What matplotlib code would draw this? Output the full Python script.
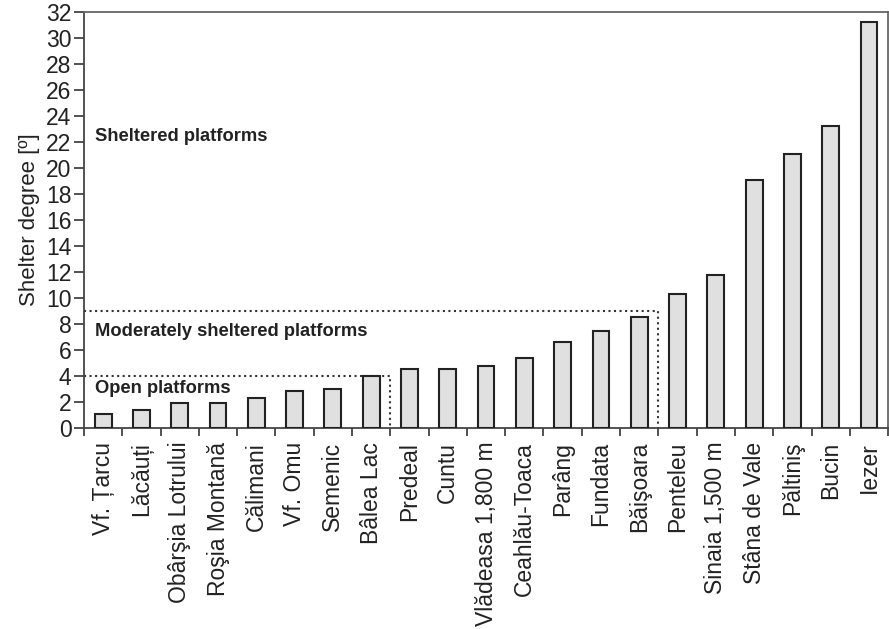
import matplotlib
matplotlib.use("Agg")
import matplotlib.pyplot as plt
import numpy as np

plt.rcParams['font.family'] = ['Liberation Sans', 'DejaVu Sans']

stations = ['Vf. Țarcu', 'Lăcăuți', 'Obârşia Lotrului', 'Roşia Montană', 'Călimani',
            'Vf. Omu', 'Semenic', 'Bâlea Lac', 'Predeal', 'Cuntu',
            'Vlădeasa 1,800 m', 'Ceahlău-Toaca', 'Parâng', 'Fundata', 'Băişoara',
            'Penteleu', 'Sinaia 1,500 m', 'Stâna de Vale', 'Păltiniş', 'Bucin', 'Iezer']
shelter = [1.1, 1.35, 1.9, 1.9, 2.3, 2.85, 3.0, 4.0, 4.55, 4.55,
           4.8, 5.35, 6.65, 7.45, 8.55, 10.3, 11.75, 19.1, 21.1, 23.2, 31.2]

# class limits: open < 4, moderately sheltered < 9
open_limit = 4.0
moderate_limit = 9.0
last_open = 'Bâlea Lac'
last_moderate = 'Băişoara'

fig = plt.figure(figsize=(8.89, 6.29), dpi=100)
ax = fig.add_axes([0.0945, 0.3196, 0.9045, 0.6614])

x = np.arange(len(stations))
ax.bar(x, shelter, width=0.44, color='#e0e0e0', edgecolor='#222222', linewidth=1.5, zorder=3)

ax.set_xlim(-0.5, len(stations) - 0.5)
ax.set_ylim(0, 32)
ax.set_yticks(np.arange(0, 33, 2))
ax.set_xticks(x)
ax.set_xticklabels(stations, rotation=90, fontsize=16.5, color='#222222')
ax.tick_params(axis='x', which='major', length=0, pad=10)
ax.set_xticks(np.arange(-0.5, len(stations), 1), minor=True)
ax.tick_params(axis='x', which='minor', length=6, width=1.3, color='#444444', direction='out')
ax.tick_params(axis='y', length=7, width=1.3, color='#444444', labelsize=16.5, labelcolor='#222222', pad=2)
ax.set_ylabel('Shelter degree [º]', fontsize=16, color='#222222', labelpad=4)

for s in ax.spines.values():
    s.set_color('#666666')
    s.set_linewidth(1.3)
ax.spines['left'].set_color('#444444')
ax.spines['bottom'].set_color('#444444')

# dotted class boundaries
xo = stations.index(last_open) + 0.5
xm = stations.index(last_moderate) + 0.5
ax.plot([-0.5, xo, xo], [open_limit, open_limit, 0], ls=':', color='#333333', lw=1.5, zorder=2)
ax.plot([-0.5, xm, xm], [moderate_limit, moderate_limit, 0], ls=':', color='#333333', lw=1.5, zorder=2)

ax.text(-0.2, 22.4, 'Sheltered platforms', fontsize=13.2, fontweight='bold', color='#222222', va='center')
ax.text(-0.2, 7.4, 'Moderately sheltered platforms', fontsize=13.2, fontweight='bold', color='#222222', va='center')
ax.text(-0.2, 3.0, 'Open platforms', fontsize=13.2, fontweight='bold', color='#222222', va='center')

fig.savefig('out.png', dpi=100)
